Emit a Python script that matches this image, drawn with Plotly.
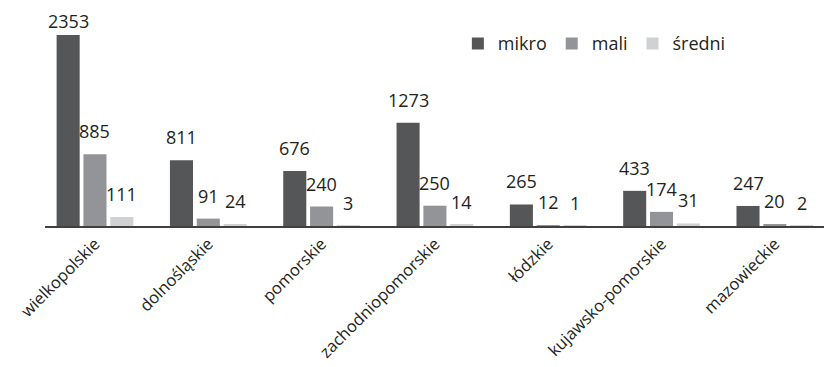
import plotly.graph_objects as go

# Liczba podmiotów wg województwa i wielkości
regions = ["wielkopolskie", "dolnośląskie", "pomorskie", "zachodniopomorskie",
           "łódzkie", "kujawsko-pomorskie", "mazowieckie"]
mikro = [2353, 811, 676, 1273, 265, 433, 247]
mali = [885, 91, 240, 250, 12, 174, 20]
sredni = [111, 24, 3, 14, 1, 31, 2]

series = [("mikro", mikro, "#555658"),
          ("mali", mali, "#939497"),
          ("średni", sredni, "#d0d1d3")]

FONT = "Open Sans"
TEXT = "#231f20"
FS = 18

W, H = 824, 367
M_L, M_R, M_T, M_B = 45, 0, 30, 141
Y_MAX = 2414
X_RANGE = [-0.441, 6.434]
BARGAP, GROUPGAP = 0.29, 0.14

fig = go.Figure()
for name, vals, col in series:
    fig.add_trace(go.Bar(x=regions, y=vals, name=name, marker_color=col,
                         marker_line_width=0))

# value labels above each bar, kept inside the plot area
plot_w = W - M_L - M_R
plot_h = H - M_T - M_B
cat_px = plot_w / (X_RANGE[1] - X_RANGE[0])
slot_px = cat_px * (1 - BARGAP) / len(series)
ppu = plot_h / Y_MAX
LABEL_H = 25
for k, (name, vals, col) in enumerate(series):
    dx = (k - (len(series) - 1) / 2) * slot_px
    for reg, v in zip(regions, vals):
        shift = 9
        room = M_T + plot_h - v * ppu - 8  # pixels above bar top to image top
        if room < shift + LABEL_H + 8:
            shift = max(0, room - LABEL_H - 6)
        fig.add_annotation(x=reg, y=v, xref="x", yref="y", text=str(v),
                           showarrow=False, xshift=dx, yshift=shift,
                           yanchor="bottom", xanchor="center",
                           font=dict(family=FONT, size=FS, color=TEXT))

fig.update_layout(
    width=W, height=H,
    margin=dict(l=M_L, r=M_R, t=M_T, b=M_B, autoexpand=False),
    paper_bgcolor="white", plot_bgcolor="white",
    barmode="group", bargap=BARGAP, bargroupgap=GROUPGAP,
    font=dict(family=FONT, size=FS, color=TEXT),
    showlegend=True,
    legend=dict(orientation="h", x=0.53, xanchor="left", y=0.93, yanchor="middle",
                font=dict(family=FONT, size=FS, color=TEXT),
                itemwidth=30, traceorder="normal"),
)
fig.update_xaxes(range=X_RANGE, tickangle=-45, showline=True, linecolor="#404040",
                 linewidth=1.5, ticks="", showgrid=False, automargin=False,
                 tickfont=dict(family=FONT, size=16.5, color=TEXT))
fig.update_yaxes(range=[0, Y_MAX], visible=False, showgrid=False, automargin=False)

fig.write_html("out.html")
